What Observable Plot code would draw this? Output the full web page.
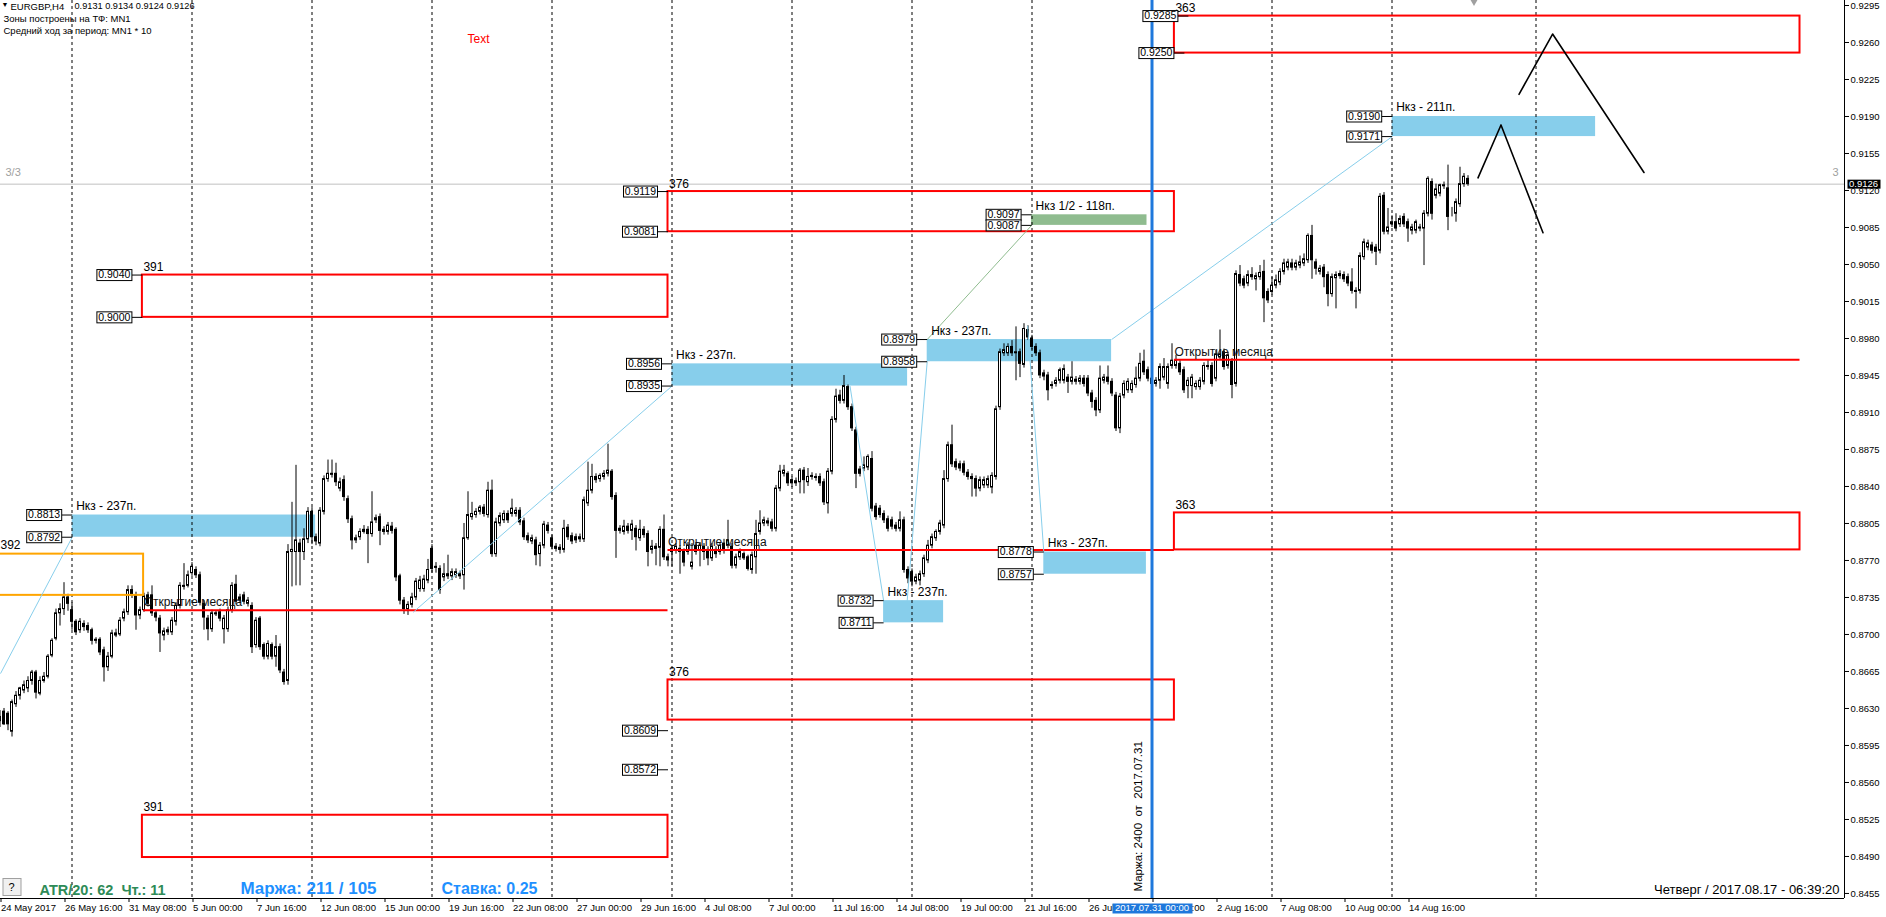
<!DOCTYPE html>
<html><head><meta charset="utf-8">
<script src="https://cdn.jsdelivr.net/npm/d3@7"></script>
<script src="https://cdn.jsdelivr.net/npm/@observablehq/plot@0.6"></script>
<style>
html,body{margin:0;padding:0;background:#fff;overflow:hidden}
svg{display:block}
</style></head><body><div id="chart"></div>
<script>
// ---------- EURGBP H4 candles (prices x 10000), bar 0 = 24 May 2017 00:00 ----------
const barOpen = [
8618,8627,8625,8608,8634,8642,8647,8649,8656,8664, 8644,8656,8660,8680,8696,8720,8724,8735,8723,8712,
8704,8710,8708,8704,8695,8695,8685,8669,8679,8701, 8700,8715,8721,8742,8737,8718,8723,8737,8737,8720,
8715,8699,8704,8702,8712,8727,8745,8746,8758,8761, 8756,8729,8715,8705,8720,8721,8705,8705,8723,8747,
8735,8737,8729,8727,8690,8715,8690,8679,8690,8679, 8688,8664,8656,8778,8778,8786,8778,8790,8816,8792,
8786,8816,8847,8851,8852,8838,8846,8828,8809,8789, 8792,8797,8799,8795,8808,8811,8799,8797,8802,8799,
8755,8732,8724,8728,8735,8743,8743,8751,8781,8764, 8762,8754,8757,8755,8756,8755,8756,8791,8811,8813,
8816,8820,8813,8836,8776,8805,8808,8814,8814,8814, 8817,8807,8793,8788,8789,8776,8784,8803,8791,8783,
8782,8780,8801,8793,8792,8790,8790,8824,8836,8849, 8847,8849,8852,8854,8831,8800,8797,8802,8798,8800,
8791,8799,8795,8780,8783,8782,8799,8773,8778,8779, 8781,8778,8778,8764,8784,8779,8783,8780,8772,8780,
8778,8786,8784,8783,8765,8773,8776,8773,8761,8773, 8797,8805,8807,8806,8800,8838,8852,8852,8846,8843,
8844,8855,8844,8849,8848,8849,8844,8824,8854,8903, 8926,8921,8934,8915,8893,8856,8857,8858,8866,8821,
8819,8814,8809,8808,8803,8800,8808,8761,8759,8750, 8751,8757,8770,8784,8791,8797,8803,8847,8879,8863,
8861,8861,8853,8849,8847,8838,8841,8841,8839,8849, 8915,8966,8966,8972,8966,8967,8955,8988,8980,8972,
8966,8947,8945,8935,8937,8940,8940,8943,8939,8939, 8939,8942,8942,8928,8921,8912,8940,8943,8939,8926,
8895,8926,8931,8931,8936,8942,8958,8950,8937,8937, 8940,8943,8937,8954,8954,8956,8950,8935,8935,8934,
8934,8939,8953,8954,8942,8962,8967,8954,8958,8937, 9040,9036,9032,9040,9036,9038,9043,9024,9024,9030,
9033,9043,9047,9051,9047,9049,9051,9054,9077,9052, 9043,9047,9040,9022,9037,9039,9040,9038,9033,9025,
9025,9057,9066,9068,9066,9063,9115,9081,9088,9090, 9088,9095,9090,9082,9082,9085,9084,9098,9128,9115,
9117,9124,9122,9098,9098,9107,9126,9131];
const barHigh = [
8628,8630,8627,8638,8646,8650,8656,8660,8666,8666, 8660,8664,8681,8696,8724,8729,8749,8738,8730,8714,
8715,8713,8711,8706,8697,8697,8688,8683,8704,8705, 8716,8724,8746,8746,8740,8726,8739,8740,8746,8722,
8718,8706,8707,8716,8730,8749,8767,8760,8768,8764, 8759,8732,8718,8723,8722,8724,8718,8726,8749,8756,
8738,8740,8735,8730,8716,8717,8692,8694,8692,8699, 8691,8667,8785,8825,8860,8790,8800,8820,8820,8795,
8820,8850,8865,8865,8862,8848,8850,8831,8812,8794, 8800,8803,8802,8835,8813,8814,8802,8806,8806,8801,
8757,8735,8731,8739,8753,8755,8756,8771,8785,8768, 8765,8767,8775,8762,8762,8760,8805,8835,8825,8819,
8822,8823,8844,8846,8810,8815,8817,8817,8828,8820, 8820,8810,8796,8794,8792,8787,8807,8806,8794,8786,
8785,8808,8804,8796,8795,8795,8830,8863,8861,8852, 8852,8855,8880,8856,8834,8803,8808,8805,8808,8803,
8808,8802,8798,8789,8786,8802,8813,8776,8784,8786, 8784,8781,8787,8786,8787,8787,8786,8783,8786,8783,
8787,8790,8808,8786,8776,8781,8778,8775,8778,8808, 8817,8811,8810,8809,8841,8860,8860,8854,8849,8848,
8857,8858,8857,8853,8852,8852,8847,8857,8906,8932, 8931,8945,8936,8918,8896,8859,8868,8870,8873,8824,
8822,8817,8812,8811,8806,8816,8811,8764,8762,8757, 8760,8775,8789,8795,8799,8808,8855,8882,8898,8866,
8864,8864,8856,8852,8850,8849,8849,8850,8853,8916, 8970,8975,8975,8978,8991,8970,8994,8992,8983,8975,
8969,8950,8948,8939,8943,8952,8955,8946,8958,8944, 8945,8945,8945,8931,8924,8954,8946,8954,8942,8929,
8928,8940,8942,8940,8953,8966,8969,8953,8945,8943, 8956,8961,8956,8975,8964,8959,8953,8943,8946,8940,
8943,8957,8959,8957,8969,8988,8970,8967,8961,9044, 9049,9039,9044,9047,9042,9049,9054,9027,9038,9040,
9046,9055,9055,9055,9054,9058,9060,9079,9087,9055, 9049,9050,9043,9041,9043,9044,9043,9041,9046,9028,
9061,9074,9073,9071,9069,9117,9118,9103,9096,9098, 9096,9098,9093,9088,9092,9088,9101,9133,9131,9126,
9126,9128,9144,9104,9112,9142,9136,9134];
const barLow = [
8612,8614,8609,8603,8631,8638,8644,8645,8652,8639, 8642,8654,8658,8678,8694,8708,8718,8722,8704,8699,
8701,8703,8701,8690,8691,8680,8655,8665,8677,8697, 8698,8712,8718,8734,8704,8714,8721,8726,8717,8712,
8683,8694,8699,8699,8708,8724,8742,8744,8755,8753, 8727,8704,8694,8702,8717,8712,8691,8702,8720,8728,
8729,8728,8726,8682,8687,8685,8676,8676,8676,8669, 8663,8652,8652,8745,8746,8746,8770,8786,8785,8784,
8783,8813,8844,8848,8840,8835,8826,8805,8780,8786, 8789,8795,8767,8792,8805,8784,8794,8794,8795,8750,
8728,8719,8718,8725,8732,8740,8740,8748,8758,8758, 8738,8750,8752,8751,8753,8752,8742,8789,8808,8810,
8813,8811,8810,8773,8773,8802,8805,8805,8811,8811, 8803,8789,8786,8785,8765,8764,8781,8795,8780,8778,
8776,8777,8789,8785,8786,8787,8787,8821,8833,8843, 8844,8846,8849,8827,8772,8795,8794,8795,8789,8779,
8788,8791,8764,8776,8765,8764,8770,8764,8764,8776, 8757,8764,8775,8761,8775,8764,8770,8765,8769,8772,
8775,8776,8781,8762,8762,8770,8770,8760,8757,8757, 8794,8802,8802,8797,8797,8835,8849,8840,8839,8840,
8833,8833,8840,8846,8845,8840,8822,8814,8851,8900, 8918,8918,8912,8892,8838,8849,8854,8855,8816,8808,
8810,8805,8797,8799,8797,8797,8758,8748,8745,8747, 8746,8754,8767,8781,8788,8794,8800,8844,8858,8855,
8854,8850,8846,8830,8830,8835,8838,8838,8833,8846, 8912,8963,8963,8963,8940,8943,8952,8978,8969,8963,
8942,8940,8921,8932,8934,8937,8937,8928,8936,8936, 8936,8934,8925,8914,8906,8909,8937,8936,8925,8892,
8890,8923,8928,8928,8933,8939,8945,8939,8934,8934, 8932,8940,8932,8951,8951,8945,8928,8923,8923,8931,
8931,8936,8950,8934,8939,8959,8950,8951,8923,8934, 9029,9027,9029,9035,9025,9035,8995,9013,9021,9027,
9030,9040,9044,9044,9044,9046,9048,9051,9036,9040, 9040,9028,9010,9019,9008,9036,9033,9029,9022,9008,
9022,9054,9063,9060,9049,9060,9078,9078,9085,9081, 9085,9085,9071,9078,9079,9081,9049,9095,9092,9112,
9114,9121,9082,9095,9090,9104,9123,9124];
const barClose = [
8622,8615,8615,8636,8642,8649,8652,8656,8664,8645, 8656,8660,8679,8694,8720,8724,8735,8729,8712,8702,
8712,8707,8704,8694,8694,8683,8669,8679,8701,8699, 8713,8721,8742,8737,8718,8723,8736,8729,8720,8716,
8701,8703,8702,8713,8727,8746,8746,8756,8764,8756, 8730,8716,8705,8720,8719,8715,8715,8723,8746,8731,
8732,8731,8732,8688,8713,8688,8679,8691,8679,8688, 8666,8655,8778,8780,8789,8778,8790,8816,8792,8788,
8817,8847,8852,8852,8844,8844,8830,8809,8789,8791, 8797,8799,8795,8806,8810,8798,8797,8803,8798,8754,
8732,8724,8728,8735,8750,8751,8752,8761,8762,8763, 8742,8757,8755,8759,8759,8757,8791,8813,8814,8816,
8820,8814,8836,8776,8806,8812,8814,8808,8819,8817, 8806,8792,8789,8791,8775,8784,8804,8798,8783,8781,
8780,8800,8792,8788,8789,8792,8827,8836,8849,8846, 8850,8852,8855,8830,8798,8798,8802,8798,8804,8792,
8799,8794,8778,8783,8781,8799,8773,8770,8781,8783, 8778,8768,8784,8768,8778,8784,8778,8772,8783,8776,
8784,8779,8789,8765,8773,8778,8772,8762,8775,8795, 8805,8808,8805,8800,8838,8854,8855,8843,8843,8845,
8855,8846,8849,8850,8849,8843,8825,8854,8903,8925, 8921,8935,8915,8895,8852,8852,8860,8868,8819,8811,
8813,8808,8800,8802,8800,8808,8761,8753,8750,8754, 8757,8772,8784,8792,8797,8805,8847,8879,8861,8858,
8857,8853,8849,8847,8838,8846,8846,8847,8850,8913, 8967,8969,8972,8966,8967,8956,8989,8981,8972,8966,
8945,8944,8931,8936,8940,8950,8951,8939,8943,8941, 8942,8937,8928,8920,8912,8942,8943,8939,8928,8895,
8925,8937,8939,8937,8942,8956,8948,8942,8942,8940, 8953,8953,8953,8959,8959,8948,8931,8940,8943,8937,
8940,8954,8954,8937,8965,8965,8953,8964,8936,9041, 9032,9030,9040,9038,9039,9042,9018,9016,9030,9035,
9043,9051,9052,9047,9051,9052,9055,9077,9054,9046, 9046,9038,9022,9038,9040,9041,9036,9032,9025,9024,
9058,9071,9070,9063,9062,9114,9081,9085,9090,9084, 9093,9088,9084,9085,9090,9084,9098,9131,9098,9121,
9125,9125,9095,9098,9109,9126,9133,9126];

// ---------- axes ----------
const xLabelBars = [0,16,32,48,64,80,96,112,128,144,160,176,192,208,224,240,256,272,288,304,320,336,352];
const xLabelText = ["24 May 2017","26 May 16:00","31 May 08:00","5 Jun 00:00","7 Jun 16:00","12 Jun 08:00",
  "15 Jun 00:00","19 Jun 16:00","22 Jun 08:00","27 Jun 00:00","29 Jun 16:00","4 Jul 08:00","7 Jul 00:00",
  "11 Jul 16:00","14 Jul 08:00","19 Jul 00:00","21 Jul 16:00","26 Jul 08:00","31 Jul 00:00","2 Aug 16:00",
  "7 Aug 08:00","10 Aug 00:00","14 Aug 16:00"];
const yTickValues = [0.8455,0.8490,0.8525,0.8560,0.8595,0.8630,0.8665,0.8700,0.8735,0.8770,0.8805,0.8840,
  0.8875,0.8910,0.8945,0.8980,0.9015,0.9050,0.9085,0.9120,0.9155,0.9190,0.9225,0.9260,0.9295];
const separatorBars = [18,48,78,108,138,168,198,228,258,288,318,348,384];
const currentPrice = 0.9126;
const markerBar = 288;
const markerDate = "2017.07.31 00:00";

// ---------- zones ----------
const redBoxes = [
  {label:"363", b1:293.6, b2:450, top:0.9285, bottom:0.9250},
  {label:"376", b1:167, b2:293.6, top:0.9119, bottom:0.9081},
  {label:"391", b1:35.6, b2:167, top:0.9040, bottom:0.9000},
  {label:"363", b1:293.6, b2:450, top:0.8815, bottom:0.8780},
  {label:"376", b1:167, b2:293.6, top:0.8657, bottom:0.8619},
  {label:"391", b1:35.6, b2:167, top:0.8529, bottom:0.8489}
];
const orangeBoxes = [{label:"392", b1:-10, b2:35.9, top:0.8776, bottom:0.8737}];
const monthOpens = [
  {b1:35.9, b2:167, price:0.8723},
  {b1:167, b2:293.6, price:0.8780},
  {b1:293.6, b2:450, price:0.8960}
];
const skyZones = [
  {label:"Нкз - 237п.", b1:18.05, b2:78.9, top:0.8813, bottom:0.8792},
  {label:"Нкз - 237п.", b1:168, b2:226.9, top:0.8956, bottom:0.8935},
  {label:"Нкз - 237п.", b1:220.9, b2:235.9, top:0.8732, bottom:0.8711},
  {label:"Нкз - 237п.", b1:231.8, b2:277.9, top:0.8979, bottom:0.8958},
  {label:"Нкз - 237п.", b1:260.95, b2:286.6, top:0.8778, bottom:0.8757},
  {label:"Нкз - 211п.", b1:348.05, b2:398.9, top:0.9190, bottom:0.9171}
];
const greenZones = [{label:"Нкз 1/2 - 118п.", b1:257.9, b2:286.75, top:0.9097, bottom:0.9087}];
const tags = [
  {bar:18.05, price:0.8813},{bar:18.05, price:0.8792},
  {bar:35.6, price:0.9040},{bar:35.6, price:0.9000},
  {bar:167, price:0.9119},{bar:167, price:0.9081},
  {bar:168, price:0.8956},{bar:168, price:0.8935},
  {bar:220.9, price:0.8732},{bar:220.9, price:0.8711},
  {bar:231.8, price:0.8979},{bar:231.8, price:0.8958},
  {bar:257.9, price:0.9097},{bar:257.9, price:0.9087},
  {bar:260.95, price:0.8778},{bar:260.95, price:0.8757},
  {bar:297.1, price:0.9285},{bar:296.1, price:0.9250},
  {bar:348.05, price:0.9190},{bar:348.05, price:0.9171},
  {bar:167, price:0.8609},{bar:167, price:0.8572}
];
const skyLines = [
  {b1:0.125, p1:0.8663, b2:18.05, p2:0.8792},
  {b1:103.3, p1:0.8721, b2:168, p2:0.8935},
  {b1:212.5, p1:0.8935, b2:220.9, p2:0.8732},
  {b1:226.8, p1:0.8732, b2:231.8, p2:0.8958},
  {b1:277.9, p1:0.8979, b2:348.05, p2:0.9171},
  {b1:256.9, p1:0.8992, b2:260.95, p2:0.8778}
];
const greenLines = [{b1:231.8, p1:0.8979, b2:257.9, p2:0.9087}];
const zigzagLower = [{b:369.5, p:0.9132},{b:375.25, p:0.9182},{b:385.75, p:0.9080}];
const zigzagUpper = [{b:379.75, p:0.9211},{b:388.15, p:0.9268},{b:411, p:0.9137}];
const freeText = [{bar:116.9, price:0.92633, text:"Text"}];

// ---------- build ----------
const bars = barOpen.map((o, i) => ({i, o:o/1e4, h:barHigh[i]/1e4, l:barLow[i]/1e4, c:barClose[i]/1e4}));
const up = bars.filter(d => d.c >= d.o), down = bars.filter(d => d.c < d.o);
const labelMap = new Map(xLabelBars.map((b, k) => [b, xLabelText[k]]));
const FONT = "'Liberation Sans', Arial, sans-serif";
const X0 = 0.125, X1 = 461.125;
const nb = s => s.replace(/ {2}/g, " \u00a0");

const chart = Plot.plot({
  width: 1886, height: 917,
  marginTop: 0, marginRight: 42, marginBottom: 19, marginLeft: 0,
  x: {domain: [X0, X1]},
  y: {domain: [0.845024, 0.929973]},
  style: {fontFamily: FONT, fontSize: "10px", background: "#fff", color: "#000", overflow: "visible"},
  marks: [
    Plot.rect(skyZones, {x1:"b1", x2:"b2", y1:"bottom", y2:"top", fill:"#87CEEB"}),
    Plot.rect(greenZones, {x1:"b1", x2:"b2", y1:"bottom", y2:"top", fill:"#8FBC8F"}),
    Plot.ruleX(separatorBars, {x: d => d, stroke:"#000", strokeWidth:1, strokeDasharray:"3,3"}),
    Plot.ruleY([currentPrice], {y: d => d, stroke:"#C0C0C0", strokeWidth:1}),
    Plot.ruleX(bars, {x:"i", y1:"l", y2:"h", stroke:"#000", strokeWidth:1}),
    Plot.rect(up, {x1: d => d.i - 0.25, x2: d => d.i + 0.25, y1:"o", y2:"c", fill:"#fff", stroke:"#000", strokeWidth:1}),
    Plot.rect(down, {x1: d => d.i - 0.25, x2: d => d.i + 0.25, y1:"o", y2:"c", fill:"#000", stroke:"#000", strokeWidth:1}),
    Plot.rect(redBoxes, {x1:"b1", x2:"b2", y1:"bottom", y2:"top", fill:"none", stroke:"#FF0000", strokeWidth:2}),
    Plot.rect(orangeBoxes, {x1:"b1", x2:"b2", y1:"bottom", y2:"top", fill:"none", stroke:"#FFA500", strokeWidth:2, clip:true}),
    Plot.ruleY(monthOpens, {y:"price", x1:"b1", x2:"b2", stroke:"#FF0000", strokeWidth:2}),
    Plot.link(skyLines, {x1:"b1", y1:"p1", x2:"b2", y2:"p2", stroke:"#87CEEB", strokeWidth:1}),
    Plot.link(greenLines, {x1:"b1", y1:"p1", x2:"b2", y2:"p2", stroke:"#8FBC8F", strokeWidth:1}),
    Plot.line(zigzagLower, {x:"b", y:"p", stroke:"#000", strokeWidth:1.6}),
    Plot.line(zigzagUpper, {x:"b", y:"p", stroke:"#000", strokeWidth:1.6}),
    // blue vertical marker
    Plot.ruleX([markerBar], {x: d => d, stroke:"#1E78DC", strokeWidth:3}),
    Plot.text(["Маржа: 2400  от  2017.07.31"].map(nb), {x: () => markerBar, frameAnchor:"bottom", rotate:-90, textAnchor:"start", lineAnchor:"middle", dx:-14, dy:-7, fontSize:11.5, fill:"#000"}),
    // labels
    Plot.text(skyZones.concat(greenZones), {x:"b1", y:"top", text:"label", textAnchor:"start", lineAnchor:"bottom", dx:4, dy:-5, fontSize:12, fill:"#000"}),
    Plot.text(redBoxes, {x:"b1", y:"top", text:"label", textAnchor:"start", lineAnchor:"bottom", dx:1, dy:-4, fontSize:12, fill:"#000"}),
    Plot.text(orangeBoxes, {x: () => X0, y:"top", text:"label", textAnchor:"start", lineAnchor:"bottom", dx:0, dy:-5, fontSize:12, fill:"#000"}),
    Plot.text(monthOpens, {x:"b1", y:"price", text: () => "Открытие месяца", textAnchor:"start", lineAnchor:"bottom", dx:0, dy:-4, fontSize:12, fill:"#111"}),
    Plot.text(freeText, {x:"bar", y:"price", text:"text", textAnchor:"start", lineAnchor:"middle", fontSize:12, fill:"#FF0000"}),
    Plot.text(["3/3"], {frameAnchor:"left", y: () => currentPrice, dx:5, dy:-8, lineAnchor:"bottom", textAnchor:"start", fontSize:11, fill:"#A0A0A0"}),
    Plot.text(["3"], {x: () => X1, y: () => currentPrice, dx:-6, dy:-8, lineAnchor:"bottom", textAnchor:"end", fontSize:11, fill:"#A0A0A0"}),
    // tags
    Plot.link(tags, {x1: d => d.bar - 2.6, x2:"bar", y1:"price", y2:"price", stroke:"#000", strokeWidth:1}),
    Plot.text(tags, {x:"bar", y:"price", text: d => d.price.toFixed(4), textAnchor:"end", lineAnchor:"middle", dx:-12, fontSize:10.5, fill:"#000", ariaDescription:"tag"}),
    // header
    Plot.text(["▼"], {frameAnchor:"top-left", dx:1, dy:2, fontSize:7, fill:"#000"}),
    Plot.text(["EURGBP,H4"], {frameAnchor:"top-left", dx:10, dy:2.3, fontSize:9.5, fill:"#000"}),
    Plot.text(["0.9131 0.9134 0.9124 0.9126"], {frameAnchor:"top-left", dx:74, dy:2.3, fontSize:9.2, fill:"#000"}),
    Plot.text(["Зоны построены на ТФ: MN1"], {frameAnchor:"top-left", dx:3, dy:14.3, fontSize:9.5, fill:"#000"}),
    Plot.text(["Средний ход за период: MN1 * 10"], {frameAnchor:"top-left", dx:3, dy:26.8, fontSize:9.5, fill:"#000"}),
    // bottom info
    Plot.text(["?"], {frameAnchor:"bottom-left", dx:11, dy:-11.5, textAnchor:"middle", lineAnchor:"middle", fontSize:11, fill:"#000", ariaDescription:"qbtn"}),
    Plot.text([nb("ATR/20: 62  Чт.: 11")], {frameAnchor:"bottom-left", dx:39, dy:-4, lineAnchor:"bottom", textAnchor:"start", fontSize:14.5, fontWeight:"bold", fill:"#2E8B57"}),
    Plot.text(["Маржа: 211 / 105"], {frameAnchor:"bottom-left", dx:240, dy:-5, lineAnchor:"bottom", textAnchor:"start", fontSize:17, fontWeight:"bold", fill:"#1E90FF"}),
    Plot.text(["Ставка: 0.25"], {frameAnchor:"bottom-left", dx:441, dy:-5, lineAnchor:"bottom", textAnchor:"start", fontSize:16, fontWeight:"bold", fill:"#1E90FF"}),
    Plot.text(["Четверг / 2017.08.17 - 06:39:20"], {frameAnchor:"bottom-right", dx:-5, dy:-5, lineAnchor:"bottom", textAnchor:"end", fontSize:13, fill:"#000"}),
    Plot.dot([368.5], {x: d => d, frameAnchor:"top", symbol:"triangle", rotate:180, r:3.5, fill:"#A0A0A0", stroke:"none"}),
    // frame + axes
    Plot.ruleY([0.845024], {y: d => d, stroke:"#000"}),
    Plot.ruleX([X1], {x: d => d, stroke:"#000"}),
    Plot.axisY(yTickValues, {anchor:"right", tickSize:4, tickPadding:2, tickFormat: d3.format(".4f"), fontSize:9.5}),
    Plot.axisX(xLabelBars, {anchor:"bottom", tickSize:4, tickPadding:2, tickFormat: d => labelMap.get(d), textAnchor:"start", dx:1, fontSize:9.5}),
    Plot.text([markerDate], {x: () => markerBar, frameAnchor:"bottom", dy:9.5, textAnchor:"middle", lineAnchor:"middle", fontSize:9.5, fill:"#fff", ariaDescription:"datebox"}),
    Plot.text([currentPrice], {x: () => X1, y: d => d, text: d => d.toFixed(4), dx:4.5, textAnchor:"start", lineAnchor:"middle", fontSize:9.5, fill:"#fff", ariaDescription:"curprice"})
  ]
});
document.getElementById("chart").appendChild(chart);

function boxify(label, fill, stroke, px, py) {
  chart.querySelectorAll(`g[aria-description="${label}"] text`).forEach(t => {
    const b = t.getBBox();
    const r = document.createElementNS("http://www.w3.org/2000/svg", "rect");
    const x = Math.round(b.x - px) + 0.5, y = Math.round(b.y - py) + 0.5;
    r.setAttribute("x", x); r.setAttribute("y", y);
    r.setAttribute("width", Math.round(b.width + 2 * px)); r.setAttribute("height", Math.round(b.height + 2 * py));
    r.setAttribute("fill", fill);
    if (stroke) { r.setAttribute("stroke", stroke); r.setAttribute("stroke-width", 1); }
    const tr = t.getAttribute("transform"); if (tr) r.setAttribute("transform", tr);
    t.parentNode.insertBefore(r, t);
  });
}
boxify("tag", "#fff", "#000", 1.5, -0.5);
boxify("curprice", "#000", null, 2, -1);
boxify("datebox", "#1E78DC", null, 3, -0.5);
boxify("qbtn", "#F0F0F0", "#A0A0A0", 6, 2.5);
</script></body></html>
